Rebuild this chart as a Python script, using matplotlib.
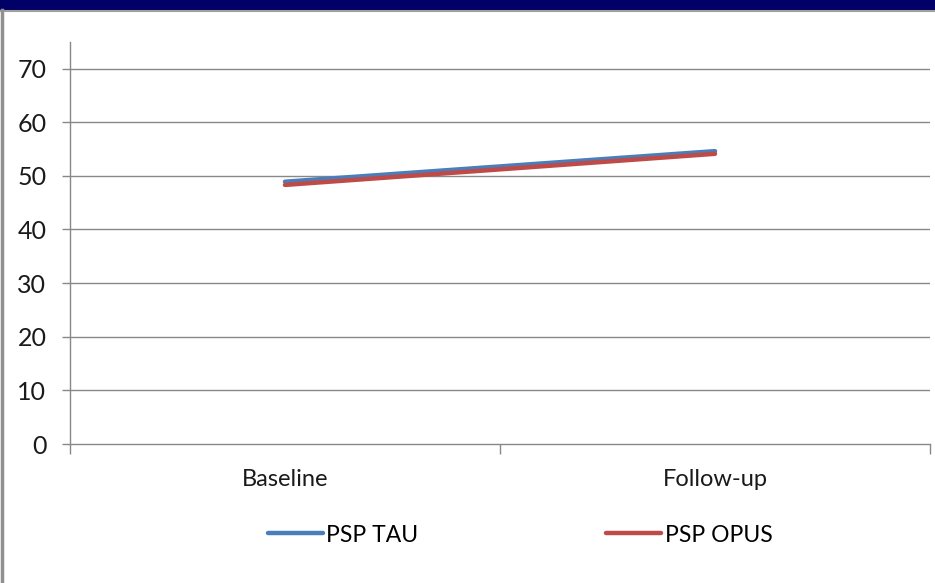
import matplotlib.pyplot as plt
from matplotlib.patches import Rectangle
from matplotlib.lines import Line2D

categories = ["Baseline", "Follow-up"]
psp_tau = [48.9, 54.6]
psp_opus = [48.3, 54.1]
y_ticks = [0, 10, 20, 30, 40, 50, 60, 70]

plt.rcParams['font.family'] = ['Lato', 'DejaVu Sans']

fig = plt.figure(figsize=(9.35, 5.83), dpi=100)
fig.patch.set_facecolor("white")

# slide frame: navy band on top, grey edges
fig.patches.append(Rectangle((0, 1 - 10 / 583), 1, 10 / 583, transform=fig.transFigure,
                             color="#000066", zorder=0))
fig.add_artist(Line2D([0, 1], [1 - 11 / 583] * 2, transform=fig.transFigure,
                      color="#a0a0a0", lw=1.5))
fig.add_artist(Line2D([1.5 / 935] * 2, [0, 1 - 10 / 583], transform=fig.transFigure,
                      color="#909090", lw=2.5))

ax = fig.add_axes([70 / 935, 1 - 444 / 583, 860 / 935, (444 - 41.7) / 583])

x = list(range(len(categories)))
ax.plot(x, psp_tau, color="#4A7EBB", lw=3.2, solid_capstyle="round", label="PSP TAU", zorder=3)
ax.plot(x, psp_opus, color="#BE4B48", lw=3.2, solid_capstyle="round", label="PSP OPUS", zorder=4)

ax.set_xlim(-0.5, len(categories) - 0.5)
ax.set_ylim(0, 75)
ax.set_yticks(y_ticks)
ax.set_yticklabels([str(v) for v in y_ticks], fontsize=18, color="#1a1a1a")
ax.set_xticks(x)
ax.set_xticklabels(categories, fontsize=17, color="#1a1a1a")
ax.tick_params(axis="x", which="major", length=0, pad=18)
ax.set_xticks([-0.5, 0.5, 1.5], minor=True)
ax.tick_params(axis="x", which="minor", length=7, width=1, color="#888888")
ax.tick_params(axis="y", length=6, width=1, color="#888888", pad=11)

for v in y_ticks[1:]:
    ax.axhline(v, color="#888888", lw=1, zorder=1)

for side in ["top", "right"]:
    ax.spines[side].set_visible(False)
for side in ["left", "bottom"]:
    ax.spines[side].set_color("#888888")
    ax.spines[side].set_linewidth(1)

fig.legend(loc="center", bbox_to_anchor=(520 / 935, 1 - 535 / 583), ncol=2, frameon=False,
           fontsize=16.5, handlelength=2.4, handletextpad=0.15, columnspacing=8.2)

fig.savefig("out.png", dpi=100)
